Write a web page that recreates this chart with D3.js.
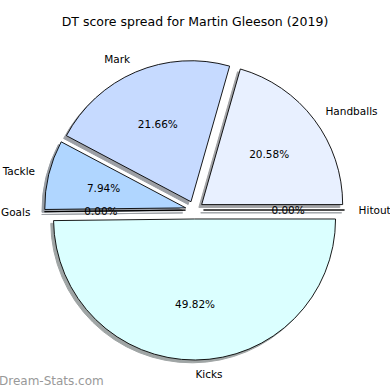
<!DOCTYPE html>
<html><head><meta charset="utf-8">
<script src="https://cdn.jsdelivr.net/npm/d3@7"></script>
<style>body{margin:0;background:#fff}svg{display:block}</style>
</head><body>
<script>
const categories = ["Handballs", "Mark", "Tackle", "Goals", "Kicks", "Hitout"];
const values = [20.58, 21.66, 7.94, 0, 49.82, 0];
const colors = ["#e8f0ff", "#c6daff", "#b0d6ff", "#c0e0ff", "#dbffff", "#d0f0ff"];
const title = "DT score spread for Martin Gleeson (2019)";

const W = 390, H = 390;
const cx = 194.5, cy = 210, r = 141, explode = 9;
const svg = d3.select("body").append("svg").attr("width", W).attr("height", H)
  .style("font-family", "DejaVu Sans");

const pie = d3.pie().sort(null).value(d => d).startAngle(Math.PI / 2).endAngle(Math.PI / 2 - 2 * Math.PI);
const arcs = pie(values);
const arc = d3.arc().innerRadius(0).outerRadius(r);

function off(a, dist) {
  const m = (a.startAngle + a.endAngle) / 2;
  return [dist * Math.sin(m), -dist * Math.cos(m), m];
}

const g = svg.append("g").attr("transform", `translate(${cx},${cy})`);

// shadows
g.selectAll("path.shadow").data(arcs).join("path")
  .attr("class", "shadow")
  .attr("d", arc)
  .attr("transform", d => { const [x, y] = off(d, explode); return `translate(${x - 2.8},${y + 2.8})`; })
  .attr("fill", (d, i) => { const c = d3.rgb(colors[i]); return d3.rgb(c.r * 0.3, c.g * 0.3, c.b * 0.3); })
  .attr("stroke", (d, i) => { const c = d3.rgb(colors[i]); return d3.rgb(c.r * 0.3, c.g * 0.3, c.b * 0.3); })
  .attr("stroke-width", 1)
  .attr("opacity", 0.5);

// wedges
g.selectAll("path.wedge").data(arcs).join("path")
  .attr("class", "wedge")
  .attr("d", arc)
  .attr("transform", d => { const [x, y] = off(d, explode); return `translate(${x},${y})`; })
  .attr("fill", (d, i) => colors[i])
  .attr("stroke", "#000")
  .attr("stroke-width", 0.9)
  .attr("stroke-linejoin", "round");

// category labels
g.selectAll("text.lab").data(arcs).join("text")
  .attr("class", "lab")
  .each(function (d, i) {
    const [ox, oy, m] = off(d, explode);
    const x = ox + 1.1 * r * Math.sin(m), y = oy - 1.1 * r * Math.cos(m);
    d3.select(this).attr("x", x).attr("y", y)
      .attr("text-anchor", Math.sin(m) > 0 ? "start" : "end")
      .attr("dominant-baseline", "central")
      .attr("font-size", 10.5).attr("fill", "#000")
      .text(categories[i]);
  });

// percentage labels
g.selectAll("text.pct").data(arcs).join("text")
  .attr("class", "pct")
  .each(function (d, i) {
    const [ox, oy, m] = off(d, explode);
    const x = ox + 0.6 * r * Math.sin(m), y = oy - 0.6 * r * Math.cos(m);
    d3.select(this).attr("x", x).attr("y", y)
      .attr("text-anchor", "middle")
      .attr("dominant-baseline", "central")
      .attr("font-size", 10.5).attr("fill", "#000")
      .text(values[i].toFixed(2) + "%");
  });

svg.append("text").attr("x", W / 2).attr("y", 26).attr("text-anchor", "middle")
  .attr("font-size", 12.5).attr("fill", "#000").text(title);

svg.append("text").attr("x", -1).attr("y", 385)
  .attr("font-size", 12).attr("fill", "#999").text("Dream-Stats.com");
</script>
</body></html>
